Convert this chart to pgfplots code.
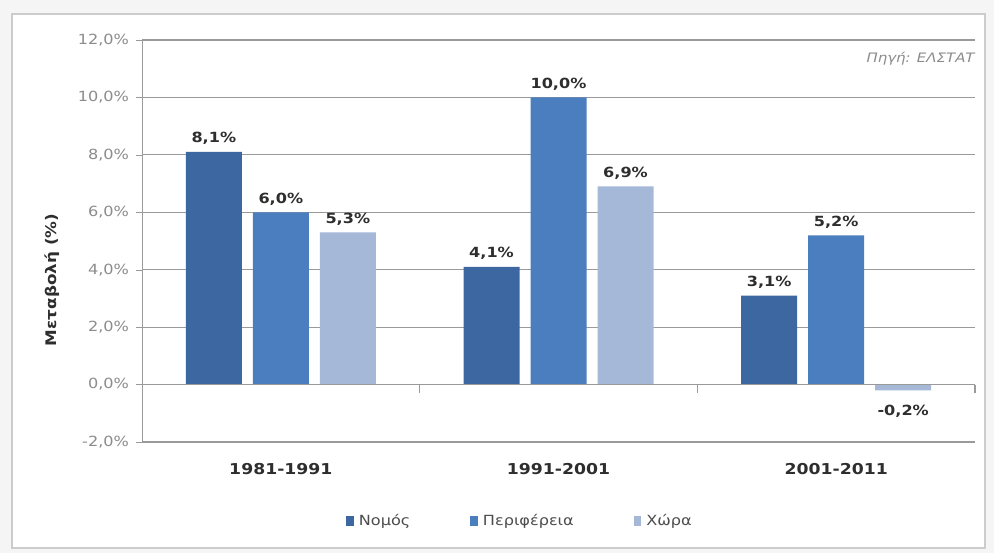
\documentclass[border=0pt]{standalone}
\usepackage{pgfplots}
\pgfplotsset{compat=1.18}
\usepackage{fontspec}
\setmainfont[FakeStretch=1.15]{DejaVu Sans}

\definecolor{nomos}{HTML}{3C67A0}
\definecolor{perif}{HTML}{4A7EBF}
\definecolor{chora}{HTML}{A5B8D8}
\definecolor{gridc}{HTML}{9A9A9A}
\definecolor{tickc}{HTML}{8C8C8C}
\definecolor{labc}{HTML}{2E2E2E}

\pgfplotsset{
  sq legend/.style={legend image code/.code={\fill[##1] (0pt,-2.4pt) rectangle (3.8pt,2.4pt);}},
}

\begin{document}
\begin{tikzpicture}
\fill[gray!8] (0pt,0pt) rectangle (497pt,276.5pt);
\draw[fill=white, draw=gray!40, line width=0.8pt] (6pt,2.5pt) rectangle (492.5pt,269.5pt);
\begin{axis}[
  at={(71pt,55.5pt)}, anchor=south west,
  scale only axis, width=416.5pt, height=201pt,
  ybar=5.5pt, bar width=28pt,
  xmin=-0.5, xmax=2.5, ymin=-2, ymax=12,
  ytick={-2,0,2,4,6,8,10,12},
  xtick={0,1,2},
  xticklabels={1981-1991,1991-2001,2001-2011},
  /pgf/number format/assume math mode=true,
  yticklabel={\pgfmathprintnumber[fixed,fixed zerofill,precision=1,use comma]{\tick}\%},
  yticklabel style={font=\fontsize{7}{8}\selectfont, text=tickc},
  xticklabel style={font=\bfseries\fontsize{7.5}{9}\selectfont, text=labc, yshift=-4pt},
  xtick style={draw=none},
  ytick style={gridc},
  tick align=outside, major tick length=3pt,
  axis lines*=left,
  axis line style={gridc, -},
  ymajorgrids=true,
  grid style={gridc, line width=0.6pt},
  ylabel={Μεταβολή (\%)},
  ylabel style={font=\bfseries\fontsize{7.3}{8.5}\selectfont, text=labc,
    at={(axis description cs:-0.108,0.403)}, anchor=center},
  nodes near coords={\pgfmathprintnumber[fixed,fixed zerofill,precision=1,use comma]{\pgfplotspointmeta}\%},
  every node near coord/.append style={font=\bfseries\fontsize{7}{8}\selectfont, text=labc},
  legend style={at={(0.455,-0.197)}, anchor=center, draw=none, fill=none,
    legend columns=3, font=\fontsize{7}{8}\selectfont, text=gray!60!black,
    /tikz/every odd column/.append style={column sep=0.5pt},
    /tikz/every even column/.append style={column sep=28pt}},
  clip=false,
]
\addplot[fill=nomos, draw=none, sq legend]
  coordinates {(0,8.1) (1,4.1) (2,3.1)};
\addplot[fill=perif, draw=none, sq legend]
  coordinates {(0,6.0) (1,10.0) (2,5.2)};
\addplot[fill=chora, draw=none, sq legend,
  coordinate style/.condition={y<0}{yshift=-4pt}]
  coordinates {(0,5.3) (1,6.9) (2,-0.2)};
\legend{Νομός,Περιφέρεια,Χώρα}

\draw[gridc, line width=0.7pt] (axis cs:-0.5,0) -- (axis cs:2.5,0);
\draw[gridc, line width=0.6pt] (axis cs:0.5,0) -- ++(0pt,-4pt);
\draw[gridc, line width=0.6pt] (axis cs:1.5,0) -- ++(0pt,-4pt);
\draw[gridc, line width=0.6pt] (axis cs:2.5,0) -- ++(0pt,-4pt);

\node[anchor=north east, inner sep=0pt, font=\itshape\fontsize{6.5}{7.5}\selectfont, text=tickc]
  at (rel axis cs:1,1) [yshift=-6pt] {Πηγή: ΕΛΣΤΑΤ};
\end{axis}
\pgfresetboundingbox
\path (0pt,0pt) rectangle (497pt,276.5pt);
\end{tikzpicture}
\end{document}
